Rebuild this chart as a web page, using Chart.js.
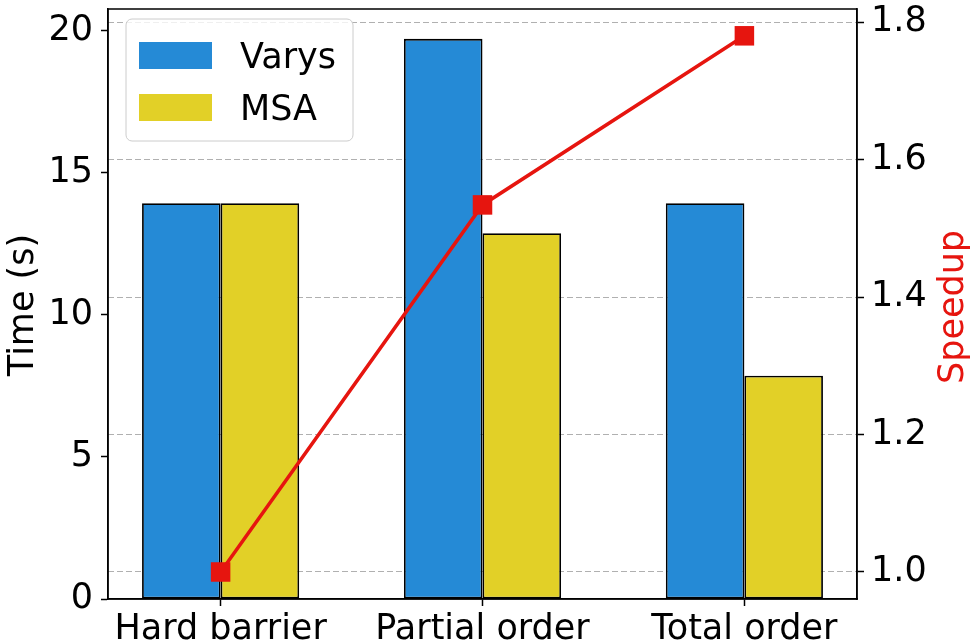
<!DOCTYPE html>
<html>
<head>
<meta charset="utf-8">
<script src="https://cdn.jsdelivr.net/npm/chart.js@4/dist/chart.umd.min.js"></script>
<style>
  body { margin: 0; background: #fff; }
</style>
</head>
<body>
<canvas id="canvas" width="974" height="644"></canvas>
<script>
const categories = ['Hard barrier', 'Partial order', 'Total order']
const varys = [13.93, 19.72, 13.93]
const msa = [13.93, 12.88, 7.86]
const speedup = [1.0, 1.534, 1.78]
const timeTicks = [0, 5, 10, 15, 20]
const speedupTicks = [1.0, 1.2, 1.4, 1.6, 1.8]

const FONT = 'DejaVu Sans'
const blue = '#258ad6'
const yellow = '#e2d027'
const red = '#e6150f'

const toPoints = (arr) => arr.map((v, i) => ({x: i, y: v}))

// pin the plot area: no automatic label padding
const noPad = (s) => {
    s.paddingTop = 0
    s.paddingBottom = 0
    s.paddingLeft = 0
    s.paddingRight = 0
}

// frame, axis titles and legend box (matplotlib style)
const extras = {
    id: 'extras',
    afterDraw(chart) {
        const ctx = chart.ctx
        const a = chart.chartArea
        ctx.save()
        ctx.strokeStyle = '#000'
        ctx.lineWidth = 1.5
        ctx.strokeRect(a.left, a.top, a.right - a.left, a.bottom - a.top)

        // axis titles
        ctx.font = '35px "' + FONT + '"'
        ctx.textAlign = 'center'
        ctx.textBaseline = 'alphabetic'
        ctx.fillStyle = '#000'
        ctx.save()
        ctx.translate(33, 305)
        ctx.rotate(-Math.PI / 2)
        ctx.fillText('Time (s)', 0, 0)
        ctx.restore()
        ctx.save()
        ctx.fillStyle = red
        ctx.translate(963, 307)
        ctx.rotate(-Math.PI / 2)
        ctx.fillText('Speedup', 0, 0)
        ctx.restore()

        // legend
        const lx = 126, ly = 19, lw = 227, lh = 122, r = 6
        ctx.beginPath()
        ctx.roundRect(lx, ly, lw, lh, r)
        ctx.fillStyle = 'rgba(255,255,255,0.8)'
        ctx.fill()
        ctx.strokeStyle = '#cccccc'
        ctx.lineWidth = 1
        ctx.stroke()
        const bars = chart.data.datasets.filter(d => d.type !== 'line')
        bars.forEach((d, i) => {
            const y = 42 + i * 52
            ctx.fillStyle = d.backgroundColor
            ctx.fillRect(139, y, 73, 27)
            ctx.fillStyle = '#000'
            ctx.textAlign = 'left'
            ctx.fillText(d.label, 240, 68 + i * 52)
        })
        ctx.restore()
    }
}

const data = {
    datasets: [
        {
            type: 'line',
            label: 'Speedup',
            data: toPoints(speedup),
            yAxisID: 'y1',
            borderColor: red,
            backgroundColor: red,
            borderWidth: 3.5,
            pointStyle: 'rect',
            pointRadius: 13.8,
            pointBorderWidth: 0,
            pointBackgroundColor: red,
            order: 0,
        },
        {
            label: 'Varys',
            data: toPoints(varys),
            backgroundColor: blue,
            borderColor: '#000',
            borderWidth: 1.8,
            borderSkipped: false,
            order: 1,
        },
        {
            label: 'MSA',
            data: toPoints(msa),
            backgroundColor: yellow,
            borderColor: '#000',
            borderWidth: 1.8,
            borderSkipped: false,
            order: 1,
        },
    ],
}

const config = {
    type: 'bar',
    data: data,
    plugins: [extras],
    options: {
        responsive: false,
        animation: false,
        layout: { autoPadding: false, padding: { top: 9, left: 0, right: 0, bottom: 0 } },
        categoryPercentage: 0.6,
        barPercentage: 1.0,
        plugins: {
            legend: { display: false },
            tooltip: { enabled: false },
        },
        scales: {
            x: {
                type: 'linear',
                min: -0.43,
                max: 2.43,
                offset: false,
                afterFit: (s) => { s.height = 45; noPad(s) },
                afterBuildTicks: (s) => { s.ticks = categories.map((c, i) => ({value: i})) },
                grid: { display: true, drawOnChartArea: false, offset: false, tickLength: 7, tickColor: '#000', tickWidth: 1.5 },
                border: { color: '#000', width: 1.5 },
                ticks: {
                    font: { family: FONT, size: 35 },
                    color: '#000',
                    padding: 3,
                    maxRotation: 0,
                    autoSkip: false,
                    callback: (v) => categories[v],
                },
            },
            y: {
                position: 'left',
                min: 0,
                max: 20.77,
                afterFit: (s) => { s.width = 108; noPad(s) },
                afterBuildTicks: (s) => { s.ticks = timeTicks.map(v => ({value: v})) },
                grid: { drawOnChartArea: false, tickLength: 7, tickColor: '#000', tickWidth: 1.5 },
                border: { color: '#000', width: 1.5 },
                ticks: { font: { family: FONT, size: 35 }, color: '#000', padding: 8 },
            },
            y1: {
                position: 'right',
                min: 0.9607,
                max: 1.819,
                afterFit: (s) => { s.width = 117; noPad(s) },
                afterBuildTicks: (s) => { s.ticks = speedupTicks.map(v => ({value: v})) },
                grid: {
                    drawOnChartArea: true,
                    color: '#b0b0b0',
                    lineWidth: 1,
                    tickLength: 7,
                    tickColor: '#000',
                    tickWidth: 1.5,
                    tickBorderDash: [],
                },
                border: { color: '#000', width: 1.5, dash: [6, 3] },
                ticks: {
                    font: { family: FONT, size: 35 },
                    color: '#000',
                    padding: 7,
                    callback: (v) => v.toFixed(1),
                },
            },
        },
    },
}

const canvas = document.getElementById('canvas')
const chart = new Chart(canvas, config)
</script>
</body>
</html>
